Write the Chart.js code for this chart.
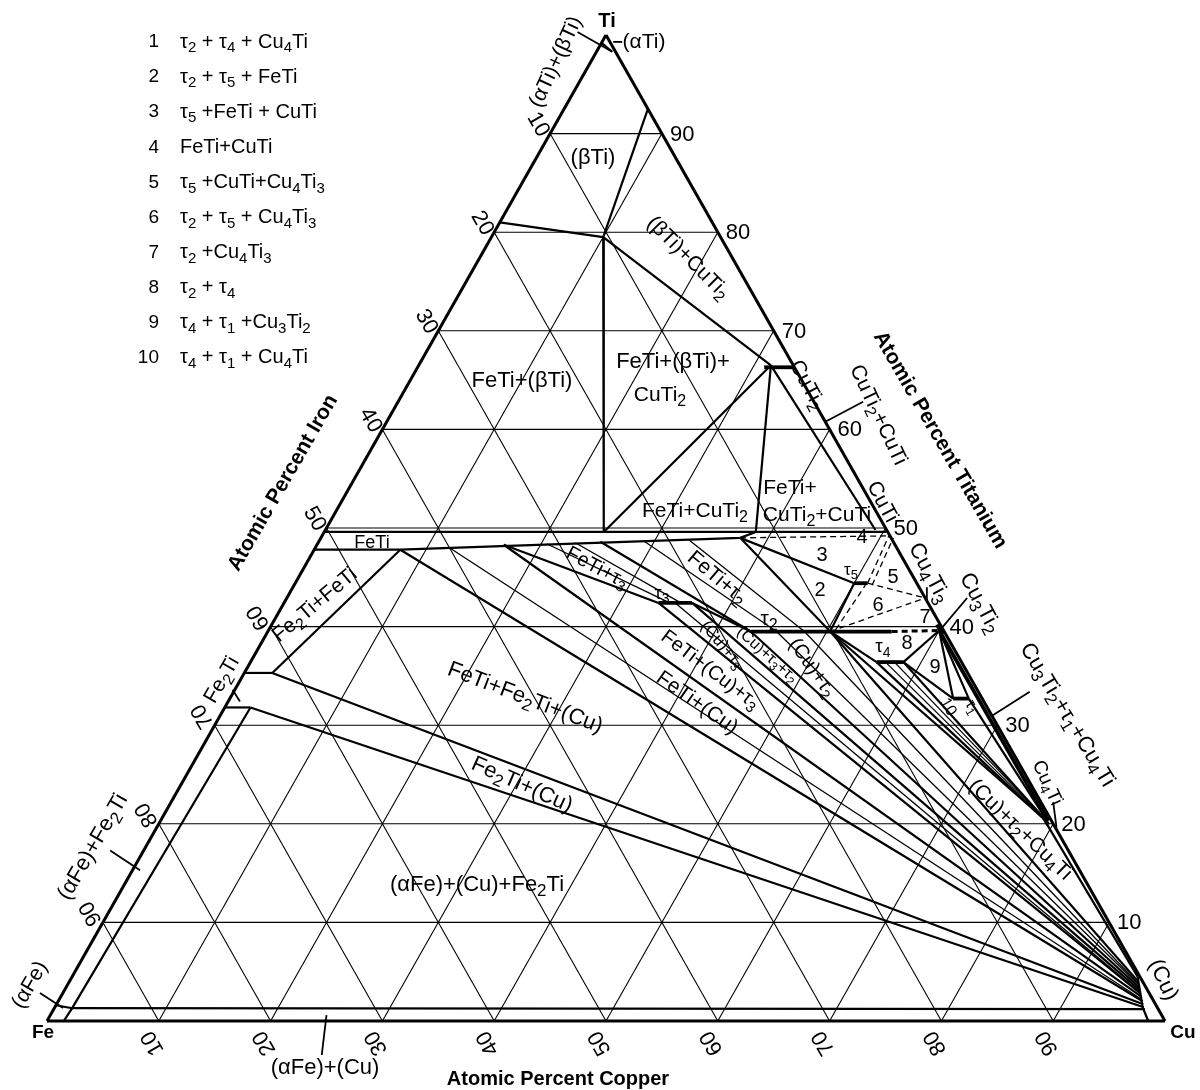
<!DOCTYPE html>
<html>
<head>
<meta charset="utf-8">
<script src="https://cdn.jsdelivr.net/npm/chart.js@4.4.1/dist/chart.umd.min.js"></script>
<style>
  html, body { margin: 0; padding: 0; background: #fff; }
  #wrap { width: 1200px; height: 1090px; }
</style>
</head>
<body>
<div id="wrap"><canvas id="c" width="1200" height="1090"></canvas></div>
<script>
// every point is [Cu, Ti] in at.% (Fe = 100 - Cu - Ti)
const gridSteps = [10, 20, 30, 40, 50, 60, 70, 80, 90];
const tickLabels = ['10', '20', '30', '40', '50', '60', '70', '80', '90'];

const edges = [
    [[0, 0], [100, 0]],
    [[100, 0], [0, 100]],
    [[0, 100], [0, 0]]
];

// phase boundaries and three-phase triangles
const boundaries = [
    [[7.5, 92.5], [10, 79.5]],
    [[0, 81], [10, 79.5]],
    [[10, 79.5], [31.5, 66.5]],
    [[10, 79.5], [25.0, 49.6]],
    [[25.0, 49.6], [31.5, 66.5]],
    [[38.6, 49.6], [31.5, 66.5]],
    [[31.5, 66.5], [49.2, 49.8]],
    [[0, 49.6], [50.3, 49.6]],
    [[0, 47.8], [7.7, 47.8], [37.5, 49.0], [38.6, 49.6]],
    [[0, 35.3], [2.5, 35.3]],
    [[0, 31.8], [2.3, 31.8]],
    [[7.7, 47.8], [2.5, 35.3]],
    [[7.7, 47.8], [97.0, 2.0]],
    [[2.5, 35.3], [97.2, 1.7]],
    [[2.3, 31.8], [97.4, 1.4]],
    [[1.6, 1.3], [2.3, 31.8]],
    [[1.6, 1.3], [97.6, 1.2]],
    [[1.5, 0], [1.6, 1.3], [0, 1.6]],
    [[95.3, 4.5], [96.4, 2.8], [97.3, 1.4], [98.5, 0]],
    [[16.7, 48.3], [33.5, 42.4]],
    [[16.7, 48.3], [96.6, 2.5]],
    [[25.2, 48.6], [43.2, 39.5]],
    [[33.5, 42.4], [96.4, 2.8]],
    [[36.5, 42.4], [96.2, 3.1]],
    [[36.5, 42.4], [43.2, 39.5]],
    [[43.2, 39.5], [96.0, 3.4]],
    [[50.3, 39.5], [95.6, 4.0]],
    [[50.3, 39.5], [78.8, 20.6]],
    [[78.8, 20.6], [95.3, 4.5]],
    [[50.3, 39.5], [56.0, 36.4]],
    [[56.0, 36.4], [78.9, 20.5]],
    [[58.4, 36.4], [79.1, 20.4]],
    [[58.4, 36.4], [64.7, 32.7]],
    [[66.1, 32.7], [79.2, 20.4]],
    [[58.4, 36.4], [60.0, 39.6]],
    [[64.7, 32.7], [60.0, 39.6]],
    [[66.1, 32.7], [60.0, 39.6]],
    [[37.5, 49.0], [50.0, 44.4]],
    [[37.5, 49.0], [50.3, 39.5]],
    [[50.0, 44.4], [50.3, 39.5]],
    [[0, 99.2], [1.4, 98.3]]
];

// heavier lines: single-phase ranges and the Cu3Ti2-Cu4Ti side
const phaseBars = [
    [[33.5, 42.4], [36.5, 42.4]],
    [[43.2, 39.5], [55.8, 39.5]],
    [[50.0, 44.4], [51.2, 44.4]],
    [[56.0, 36.4], [58.4, 36.4]],
    [[64.7, 32.7], [66.1, 32.7]],
    [[31.0, 66.3], [33.7, 66.3]],
    [[78.5, 21.0], [79.6, 19.9]],
    [[59.5, 40.2], [60.5, 39.2]],
    [[60.0, 39.6], [79.4, 20.3]]
];

// tentative boundaries
const dashedLines = [
    [[37.5, 49.0], [50.7, 49.2]],
    [[51.2, 44.4], [50.7, 49.2]],
    [[51.7, 44.2], [51.2, 49.0]],
    [[51.2, 44.4], [57.1, 42.9]],
    [[50.3, 39.5], [57.1, 42.9]],
    [[50.7, 39.7], [51.1, 44.2]]
];
const dashedBars = [
    [[55.8, 39.5], [60.0, 39.6]]
];

// tie lines in two-phase fields
const tieLines = [
    [[12.0, 48.0], [96.8, 2.2]],
    [[20.5, 48.4], [34.5, 42.4]],
    [[23.0, 48.5], [35.5, 42.4]],
    [[29.0, 48.7], [45.5, 39.5]],
    [[33.0, 48.8], [48.0, 39.5]],
    [[35.0, 42.4], [96.3, 2.9]],
    [[45.5, 39.5], [95.9, 3.6]],
    [[48.0, 39.5], [95.7, 3.8]],
    [[56.8, 36.4], [79.0, 20.5]],
    [[57.6, 36.4], [79.1, 20.45]]
];

// short pointer strokes from labels
const leaders = [
    [[-2.7, 100.3], [1.4, 98.3]],
    [[1.0, 99.3], [1.8, 99.3]],
    [[39.2, 60.75], [41.6, 62.8]],
    [[60.05, 39.65], [60.85, 42.9]],
    [[69.1, 31.0], [71.2, 33.4]],
    [[78.9, 22.2], [80.5, 19.6]],
    [[56.7, 44.0], [57.35, 42.7]],
    [[-2.05, 2.84], [0.77, 1.32]],
    [[-3.0, 17.3], [0.67, 15.3]],
    [[24.7, 0.6], [26.3, -3.45]],
    [[-0.2, 33.6], [1.06, 32.4]]
];

const legendNums = ['1', '2', '3', '4', '5', '6', '7', '8', '9', '10'];
const legendText = [
    'τ_2 + τ_4 + Cu_4Ti',
    'τ_2 + τ_5 + FeTi',
    'τ_5 +FeTi + CuTi',
    'FeTi+CuTi',
    'τ_5 +CuTi+Cu_4Ti_3',
    'τ_2 + τ_5 + Cu_4Ti_3',
    'τ_2 +Cu_4Ti_3',
    'τ_2 + τ_4',
    'τ_4 + τ_1 +Cu_3Ti_2',
    'τ_4 + τ_1 + Cu_4Ti'
];

// [text, x, y, angle, size]
const fieldLabels = [
    ['(αTi)+(βTi)', 556, 62, -65, 21],
    ['(αTi)', 644, 42, 0, 21],
    ['(βTi)', 593, 158, 0, 22],
    ['(βTi)+CuTi_2', 688, 258, 45, 21],
    ['FeTi+(βTi)', 522, 381, 0, 22],
    ['FeTi+(βTi)+', 673, 362, 0, 22],
    ['CuTi_2', 660, 395, 0, 21],
    ['FeTi+CuTi_2', 695, 511, 0, 21],
    ['FeTi+', 790, 488, 0, 21],
    ['CuTi_2+CuTi', 817, 515, 0, 21],
    ['FeTi', 372, 543, 0, 18],
    ['Fe_2Ti+FeTi', 315, 605, -40, 21],
    ['Fe_2Ti', 222, 680, -60, 21],
    ['FeTi+τ_3', 597, 568, 28, 20],
    ['τ_3', 662, 594, 0, 18],
    ['FeTi+τ_2', 717, 578, 40, 21],
    ['τ_2', 769, 619, 0, 21],
    ['(Cu)+τ_3', 722, 645, 50, 17],
    ['(Cu)+τ_3+τ_2', 767, 655, 42, 16],
    ['(Cu)+τ_2', 812, 668, 55, 20],
    ['FeTi+(Cu)+τ_3', 710, 670, 37, 20],
    ['FeTi+(Cu)', 697, 703, 35, 21],
    ['FeTi+Fe_2Ti+(Cu)', 525, 698, 21, 22],
    ['Fe_2Ti+(Cu)', 522, 785, 24, 22],
    ['(αFe)+(Cu)+Fe_2Ti', 477, 885, 0, 22],
    ['(αFe)+(Cu)', 325, 1068, 0, 22],
    ['(αFe)+Fe_2Ti', 93, 847, -60, 22],
    ['(αFe)', 30, 985, -60, 21],
    ['(Cu)', 1163, 980, 65, 22],
    ['Cu_4Ti', 1047, 783, 65, 19],
    ['Cu_3Ti_2+τ_1+Cu_4Ti', 1067, 715, 59, 22],
    ['Cu_3Ti_2', 980, 603, 62, 22],
    ['Cu_4Ti_3', 929, 573, 62, 22],
    ['CuTi', 882, 502, 62, 21],
    ['CuTi_2', 807, 385, 62, 21],
    ['CuTi_2+CuTi', 878, 415, 65, 21],
    ['(Cu)+τ_2+Cu_4Ti', 1020, 830, 44, 21],
    ['2', 820, 590, 0, 20],
    ['3', 822, 555, 0, 20],
    ['4', 862, 537, 0, 20],
    ['5', 893, 577, 0, 20],
    ['6', 878, 605, 0, 20],
    ['7', 925, 617, 0, 20],
    ['8', 907, 643, 0, 20],
    ['9', 935, 667, 0, 20],
    ['τ_5', 851, 570, 0, 17],
    ['τ_4', 883, 647, 0, 19],
    ['10', 948, 707, 60, 16],
    ['τ_1', 972, 707, 60, 16]
];

const FONT = "'Liberation Sans', Arial, sans-serif";

function toXY(p) {
    return { x: p[0] + p[1] / 2, y: p[1] };
}

function makeSet(pts, width, dash) {
    return {
        data: pts.map(toXY),
        showLine: true,
        borderColor: '#000',
        borderWidth: width,
        borderDash: dash || [],
        pointRadius: 0,
        fill: false,
        clip: false,
        tension: 0
    };
}

function buildDatasets() {
    const sets = [];
    gridSteps.forEach(function(k) {
        sets.push(makeSet([[0, k], [100 - k, k]], 1.1));
        sets.push(makeSet([[k, 0], [k, 100 - k]], 1.1));
        sets.push(makeSet([[100 - k, 0], [0, 100 - k]], 1.1));
    });
    tieLines.forEach(l => sets.push(makeSet(l, 1.3)));
    boundaries.forEach(l => sets.push(makeSet(l, 2.2)));
    dashedLines.forEach(l => sets.push(makeSet(l, 1.3, [6, 4])));
    dashedBars.forEach(l => sets.push(makeSet(l, 3, [6, 4])));
    phaseBars.forEach(l => sets.push(makeSet(l, 3.8)));
    leaders.forEach(l => sets.push(makeSet(l, 1.8)));
    edges.forEach(l => sets.push(makeSet(l, 3)));
    return sets;
}

// text with "_x" meaning subscript x
function parseRich(str) {
    const parts = [];
    for (let i = 0; i < str.length; i++) {
        if (str[i] === '_' && i + 1 < str.length) {
            parts.push({ t: str[i + 1], sub: true });
            i++;
        } else if (parts.length && !parts[parts.length - 1].sub) {
            parts[parts.length - 1].t += str[i];
        } else {
            parts.push({ t: str[i], sub: false });
        }
    }
    return parts;
}

function drawRich(ctx, str, x, y, size, angle, align, weight) {
    const parts = parseRich(str);
    const w = weight || 'normal';
    let total = 0;
    parts.forEach(function(p) {
        ctx.font = w + ' ' + (p.sub ? Math.round(size * 0.75) : size) + 'px ' + FONT;
        p.w = ctx.measureText(p.t).width;
        total += p.w;
    });
    ctx.save();
    ctx.translate(x, y);
    ctx.rotate(angle * Math.PI / 180);
    let cx = align === 'left' ? 0 : align === 'right' ? -total : -total / 2;
    ctx.textBaseline = 'middle';
    ctx.textAlign = 'left';
    parts.forEach(function(p) {
        ctx.font = w + ' ' + (p.sub ? Math.round(size * 0.75) : size) + 'px ' + FONT;
        ctx.fillText(p.t, cx, p.sub ? size * 0.3 : 0);
        cx += p.w;
    });
    ctx.restore();
}

const textPlugin = {
    id: 'ternaryText',
    afterDatasetsDraw(chart) {
        const ctx = chart.ctx;
        const sx = chart.scales.x, sy = chart.scales.y;
        const px = p => ({ x: sx.getPixelForValue(p[0] + p[1] / 2), y: sy.getPixelForValue(p[1]) });
        ctx.fillStyle = '#000';

        legendNums.forEach(function(n, i) {
            const y = 42 + i * 35.1;
            drawRich(ctx, n, 159, y, 19, 0, 'right');
            drawRich(ctx, legendText[i], 180, y, 20, 0, 'left');
        });

        gridSteps.forEach(function(k, i) {
            // titanium, right side
            let p = px([100 - k, k]);
            drawRich(ctx, tickLabels[i], p.x + 8, p.y + 1, 22, 0, 'left');
            // iron, left side
            p = px([0, 100 - k]);
            drawRich(ctx, tickLabels[i], p.x - 12, p.y - 9, 22, k <= 50 ? 60 : -120, 'center');
            // copper, bottom
            p = px([k, 0]);
            drawRich(ctx, tickLabels[i], p.x - 6, p.y + 22, 22, -120, 'center');
        });

        fieldLabels.forEach(function(l) {
            drawRich(ctx, l[0], l[1], l[2], l[4], l[3], 'center');
        });

        drawRich(ctx, 'Ti', 607, 21, 20, 0, 'center', 'bold');
        drawRich(ctx, 'Fe', 43, 1033, 19, 0, 'center', 'bold');
        drawRich(ctx, 'Cu', 1183, 1033, 19, 0, 'center', 'bold');
        drawRich(ctx, 'Atomic Percent Iron', 283, 483, 21, -60, 'center', 'bold');
        drawRich(ctx, 'Atomic Percent Titanium', 940, 440, 21, 60, 'center', 'bold');
        drawRich(ctx, 'Atomic Percent Copper', 558, 1079, 20, 0, 'center', 'bold');
    }
};

new Chart(document.getElementById('c'), {
    type: 'scatter',
    data: { datasets: buildDatasets() },
    options: {
        responsive: false,
        animation: false,
        devicePixelRatio: 1,
        events: [],
        layout: { padding: { left: 47, right: 35, top: 35, bottom: 69 } },
        scales: {
            x: { type: 'linear', min: 0, max: 100, display: false },
            y: { type: 'linear', min: 0, max: 100, display: false }
        },
        plugins: {
            legend: { display: false },
            tooltip: { enabled: false }
        }
    },
    plugins: [textPlugin]
});
</script>
</body>
</html>
